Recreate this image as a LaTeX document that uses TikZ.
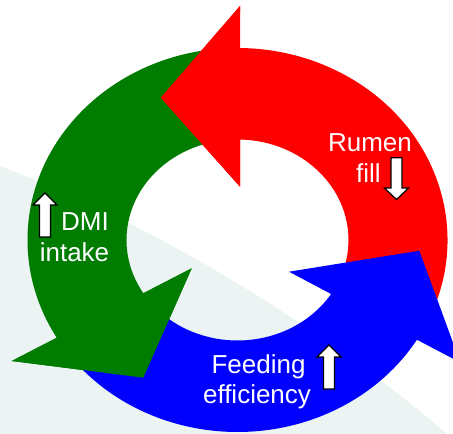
\documentclass[tikz,border=0pt]{standalone}
\usepackage{fontspec}
\setmainfont{Liberation Sans}
\definecolor{ringred}{HTML}{FF0000}
\definecolor{ringgreen}{HTML}{007C00}
\definecolor{ringblue}{HTML}{0000FF}
\definecolor{pale}{HTML}{EBF4F3}
\tikzset{
  lbl/.style={text=white, font=\fontsize{26}{31}\selectfont, inner sep=0pt, anchor=base},
  outerarc/.style={x radius=210pt, y radius=192pt},
  innerarc/.style={x radius=111pt, y radius=100.5pt},
  bigarrow/.pic={\draw[fill=white, draw=black, line width=1.2pt, line join=miter]
    (-5.5,0) -- (-5.5,32) -- (-12,32) -- (0,44) -- (12,32) -- (5.5,32) -- (5.5,0) -- cycle;}
}
\begin{document}
\begin{tikzpicture}[x=1pt,y=1pt]
\clip (0,0) rectangle (453,434);
\fill[white] (0,0) rectangle (453,434);
\fill[pale] (0,268) .. controls (180,200) and (350,84) .. (447,0) -- (0,0) -- cycle;
\coordinate (c) at (237.5,194);
% head points
\coordinate (rO) at (240,428);  \coordinate (rT) at (160.7,336.3); \coordinate (rI) at (240,247.3);
\coordinate (gO) at (11.7,73);  \coordinate (gT) at (143.3,56.3);  \coordinate (gI) at (191.7,165.7);
\coordinate (bO) at (460.3,71.5); \coordinate (bT) at (419.3,183.3); \coordinate (bI) at (289,162.3);
% full arrows
\fill[ringred] ([shift={(c)}]-28:210pt and 192pt) arc[start angle=-28, end angle=89.32, outerarc]
  -- (rO) -- (rT) -- (rI)
  -- ([shift={(c)}]88.71:111pt and 100.5pt) arc[start angle=88.71, end angle=-28, innerarc] -- cycle;
\fill[ringgreen] ([shift={(c)}]91:210pt and 192pt) arc[start angle=91, end angle=210.6, outerarc]
  -- (gO) -- (gT) -- (gI)
  -- ([shift={(c)}]212:111pt and 100.5pt) arc[start angle=212, end angle=91, innerarc] -- cycle;
\fill[ringblue] ([shift={(c)}]214:210pt and 192pt) arc[start angle=214, end angle=328.7, outerarc]
  -- (bO) -- (bT) -- (bI)
  -- ([shift={(c)}]327.5:111pt and 100.5pt) arc[start angle=327.5, end angle=214, innerarc] -- cycle;
% heads that lie over the next tail
\fill[ringred] (rO) -- (rT) -- (rI) -- cycle;
\fill[ringgreen] (gO) -- (gT) -- (gI) -- cycle;
% labels
\node[lbl] (rumen) at (370,282.3) {Rumen};
\node[lbl] (fill) at (368.5,251.3) {fill};
\node[lbl] (dmi) at (85,203) {DMI};
\node[lbl] (intake) at (74.5,172) {intake};
\node[lbl] (feeding) at (258.5,60.7) {Feeding};
\node[lbl] (efficiency) at (257,30.7) {efficiency};
% small arrows
\pic at (45,197) {bigarrow};
\pic at (329,45) {bigarrow};
\pic[rotate=180, yscale=0.95] at (396.5,276.3) {bigarrow};
\end{tikzpicture}
\end{document}
